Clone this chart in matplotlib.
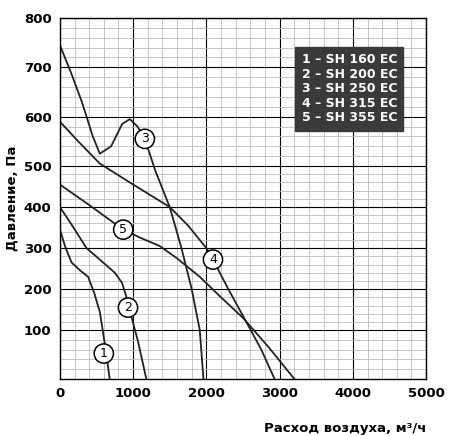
import numpy as np
import matplotlib
matplotlib.use("Agg")
import matplotlib.pyplot as plt

x1 = [0, 80, 160, 280, 386, 470, 545, 590, 640, 680]
y1 = [345, 300, 265, 245, 230, 190, 145, 95, 45, 0]
x2 = [0, 150, 364, 545, 750, 850, 910, 955, 1070, 1180]
y2 = [400, 360, 300, 272, 240, 215, 180, 148, 75, 0]
x3 = [0, 150, 300, 450, 545, 700, 850, 955, 1060, 1160, 1300, 1500, 1660, 1800, 1910, 1960]
y3 = [745, 690, 630, 560, 525, 540, 585, 595, 580, 555, 490, 400, 300, 200, 100, 0]
x4 = [0, 250, 545, 1000, 1500, 1750, 2000, 2090, 2300, 2545, 2750, 2930]
y4 = [590, 550, 505, 455, 400, 355, 300, 272, 200, 120, 60, 0]
x5 = [0, 400, 865, 1100, 1364, 1600, 1910, 2200, 2500, 2850, 3200]
y5 = [455, 405, 345, 325, 305, 275, 230, 180, 130, 65, 0]
series = [(x1, y1), (x2, y2), (x3, y3), (x4, y4), (x5, y5)]
label_pos = [(600, 52), (930, 155), (1160, 555), (2090, 272), (865, 345)]
legend_lines = ["1 – SH 160 EC", "2 – SH 200 EC", "3 – SH 250 EC", "4 – SH 315 EC", "5 – SH 355 EC"]

P = [0, 100, 500, 800]
D = [0, 146, 638, 1082]
fwd = lambda p: np.interp(p, P, D)
inv = lambda d: np.interp(d, D, P)

fig = plt.figure(figsize=(4.5, 4.36), dpi=100)
ax = fig.add_axes([0.133, 0.131, 0.814, 0.828])
ax.set_yscale('function', functions=(fwd, inv))
ax.set_xlim(0, 5000)
ax.set_ylim(0, 800)
ax.set_xticks(range(0, 5001, 1000))
ax.set_yticks(range(100, 801, 100))
ax.set_xticks(range(0, 5001, 200), minor=True)
ax.set_yticks(range(0, 801, 20), minor=True)
ax.grid(which='minor', color='#bbbbbb', lw=0.6)
ax.grid(which='major', color='black', lw=0.8)
ax.tick_params(which='both', length=0, labelsize=9.5, pad=6)
for t in ax.get_xticklabels() + ax.get_yticklabels():
    t.set_fontweight('bold')
for s in ax.spines.values():
    s.set_linewidth(1.0)

for x, y in series:
    ax.plot(x, y, color='#222222', lw=1.3)
for i, (lx, ly) in enumerate(label_pos):
    ax.text(lx, ly, str(i + 1), ha='center', va='center', fontsize=9,
            bbox=dict(boxstyle='circle,pad=0.25', fc='white', ec='black', lw=1.1))

ax.text(0.66, 0.705, "\n".join(legend_lines), transform=ax.transAxes, color='white',
        fontsize=9, fontweight='bold', va='bottom', ha='left', linespacing=1.15,
        bbox=dict(boxstyle='square,pad=0.5', fc='#3a3a3a', ec='#3a3a3a'))

ax.set_ylabel("Давление, Па", fontsize=9.5, fontweight='bold', labelpad=4)
ax.set_xlabel("Расход воздуха, м³/ч", fontsize=9.5, fontweight='bold')
ax.xaxis.set_label_coords(1.0, -0.12)
ax.xaxis.label.set_ha('right')
fig.savefig("out.png", dpi=100)
